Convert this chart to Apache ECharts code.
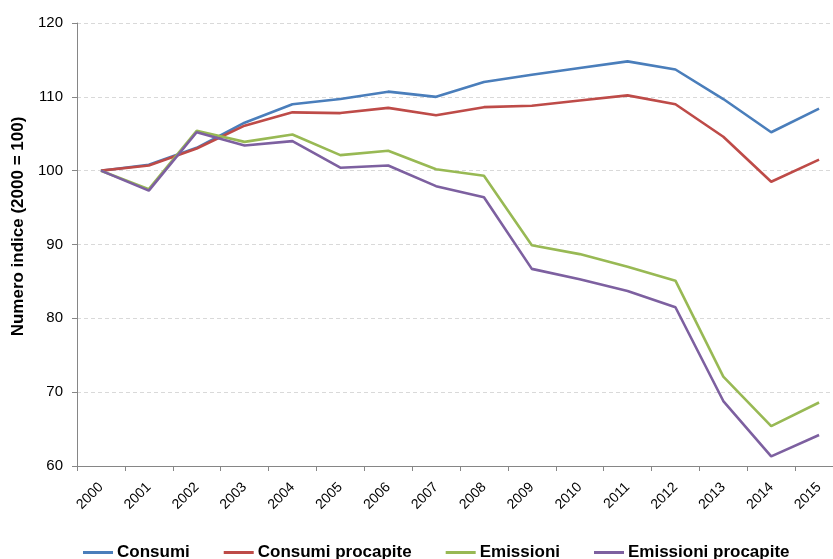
<!DOCTYPE html>
<html>
<head>
<meta charset="utf-8">
<script src="https://cdn.jsdelivr.net/npm/echarts@6/dist/echarts.min.js"></script>
<style>
  html, body { margin: 0; padding: 0; background: #fff; overflow: hidden; }
  /* the plot area runs a little past the right edge of the window */
  #chart { width: 850px; height: 559px; }
</style>
</head>
<body>
<div id="chart"></div>
<script>
// Years on the category axis
const years = ['2000','2001','2002','2003','2004','2005','2006','2007',
               '2008','2009','2010','2011','2012','2013','2014','2015'];

// Index values, 2000 = 100
const consumi = [100, 100.8, 103.1, 106.5, 109.0, 109.7, 110.7, 110.0,
                 112.0, 113.0, 113.9, 114.8, 113.7, 109.7, 105.2, 108.4];
const consumiProcapite = [100, 100.7, 103.0, 106.1, 107.9, 107.8, 108.5, 107.5,
                          108.6, 108.8, 109.5, 110.2, 109.0, 104.6, 98.5, 101.5];
const emissioni = [100, 97.5, 105.4, 103.9, 104.9, 102.1, 102.7, 100.2,
                   99.3, 89.9, 88.7, 87.0, 85.1, 72.1, 65.4, 68.6];
const emissioniProcapite = [100, 97.3, 105.2, 103.4, 104.0, 100.4, 100.7, 97.9,
                            96.4, 86.7, 85.3, 83.7, 81.5, 68.8, 61.3, 64.2];

const seriesNames = ['Consumi', 'Consumi procapite', 'Emissioni', 'Emissioni procapite'];
const seriesData = [consumi, consumiProcapite, emissioni, emissioniProcapite];
const colors = ['#4a7ebb', '#be4b48', '#98b954', '#7d60a0'];

const font = '"Liberation Sans", Arial, sans-serif';

const chart = echarts.init(document.getElementById('chart'), null, { renderer: 'canvas' });

chart.setOption({
  animation: false,
  backgroundColor: '#ffffff',
  color: colors,
  grid: { left: 77, top: 23, right: 7, bottom: 93, containLabel: false },
  legend: {
    data: seriesNames,
    left: 83,
    top: 544,
    padding: 0,
    icon: 'rect',
    itemWidth: 30,
    itemHeight: 3,
    itemGap: 34,
    textStyle: { fontFamily: font, fontSize: 17, fontWeight: 'bold', color: '#000', padding: [0, 0, 0, -1] }
  },
  xAxis: {
    type: 'category',
    data: years,
    boundaryGap: true,
    axisLine: { lineStyle: { color: '#868686', width: 1 } },
    axisTick: { show: true, length: 5, lineStyle: { color: '#868686' } },
    axisLabel: { rotate: 45, fontFamily: font, fontSize: 14, color: '#000', margin: 19 },
    splitLine: { show: false }
  },
  yAxis: {
    type: 'value',
    min: 60,
    max: 120,
    interval: 10,
    name: 'Numero indice (2000 = 100)',
    nameLocation: 'middle',
    nameGap: 50,
    nameTextStyle: { fontFamily: font, fontSize: 17, fontWeight: 'bold', color: '#000', padding: [0, 0, 0, 36] },
    axisLine: { show: true, lineStyle: { color: '#868686', width: 1 } },
    axisTick: { show: true, length: 5, lineStyle: { color: '#868686' } },
    axisLabel: { fontFamily: font, fontSize: 15, color: '#000', margin: 14 },
    splitLine: { show: true, lineStyle: { color: '#d9d9d9', type: [4, 3], width: 1 } }
  },
  series: seriesNames.map((name, i) => ({
    name: name,
    type: 'line',
    data: seriesData[i],
    symbol: 'none',
    lineStyle: { width: 2.6, color: colors[i] },
    itemStyle: { color: colors[i] }
  }))
});
</script>
</body>
</html>
